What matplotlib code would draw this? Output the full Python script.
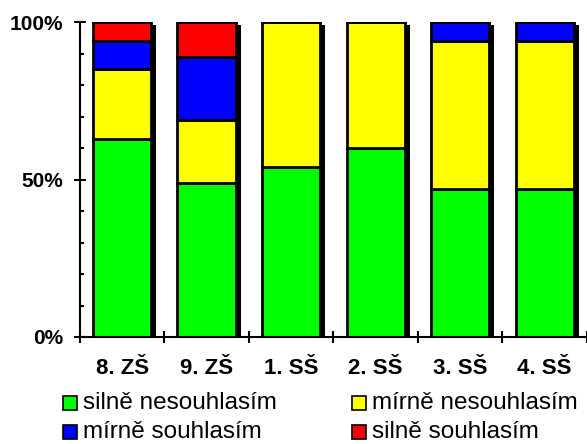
import matplotlib
matplotlib.use("Agg")
import numpy as np
from matplotlib import pyplot as plt
from matplotlib import patheffects
from matplotlib.patches import Rectangle

plt.rcParams['font.family'] = ['Liberation Sans', 'DejaVu Sans']

categories = ['8. ZŠ', '9. ZŠ', '1. SŠ', '2. SŠ', '3. SŠ', '4. SŠ']
silne_nesouhlasim = [63, 49, 54, 60, 47, 47]
mirne_nesouhlasim = [22, 20, 46, 40, 47, 47]
mirne_souhlasim = [9, 20, 0, 0, 6, 6]
silne_souhlasim = [6, 11, 0, 0, 0, 0]

series = [
    ('silně nesouhlasím', silne_nesouhlasim, '#00ff00'),
    ('mírně nesouhlasím', mirne_nesouhlasim, '#ffff00'),
    ('mírně souhlasím', mirne_souhlasim, '#0000ff'),
    ('silně souhlasím', silne_souhlasim, '#ff0000'),
]

fig = plt.figure(figsize=(5.87, 4.44), dpi=100)
ax = fig.add_axes([0.136, 0.241, 0.864, 0.709])

x = np.arange(len(categories))
width = 0.69

# black drop shadow behind each whole column
totals = np.sum([s[1] for s in series], axis=0)
shadow = [patheffects.SimplePatchShadow(offset=(3.6, -2.2), shadow_rgbFace='black', alpha=1.0)]
ax.bar(x, totals, width, color='black', path_effects=shadow, zorder=1)

bottom = np.zeros(len(categories))
for name, vals, color in series:
    vals = np.array(vals, dtype=float)
    ax.bar(x, vals, width, bottom=bottom, color=color, edgecolor='black',
           linewidth=2, zorder=2)
    bottom += vals

ax.set_xlim(-0.5, len(categories) - 0.5)
ax.set_ylim(0, 100)

for side in ['top', 'right']:
    ax.spines[side].set_visible(False)
ax.spines['left'].set_linewidth(1.5)
ax.spines['bottom'].set_linewidth(1.5)

ax.set_yticks([0, 50, 100])
ax.set_yticklabels(['0%', '50%', '100%'], fontsize=15, fontweight='bold')
ax.set_yticks(np.arange(0, 101, 10), minor=True)
ax.tick_params(axis='y', which='major', direction='inout', length=8, width=1.5, pad=8)
ax.tick_params(axis='y', which='minor', direction='in', length=3, width=1.5)

ax.set_xticks(np.arange(len(categories) + 1) - 0.5)
ax.set_xticklabels([])
ax.set_xticks(x, minor=True)
ax.set_xticklabels(categories, minor=True, fontsize=16, fontweight='bold')
ax.tick_params(axis='x', which='major', direction='inout', length=8, width=1.5)
ax.tick_params(axis='x', which='minor', length=0, pad=15)

# legend laid out in two rows of two
legend_pos = [(63, 403), (352, 403), (63, 432), (352, 432)]
W, H = 587.0, 444.0
for (name, vals, color), (px, py) in zip(series, legend_pos):
    fig.patches.append(Rectangle((px / W, 1 - (py + 7) / H), 14 / W, 14 / H,
                                 facecolor=color, edgecolor='black', linewidth=1.2,
                                 transform=fig.transFigure, figure=fig))
    fig.text((px + 20) / W, 1 - py / H, name, fontsize=17.5, va='center', ha='left')

fig.savefig('out.png', dpi=100)
